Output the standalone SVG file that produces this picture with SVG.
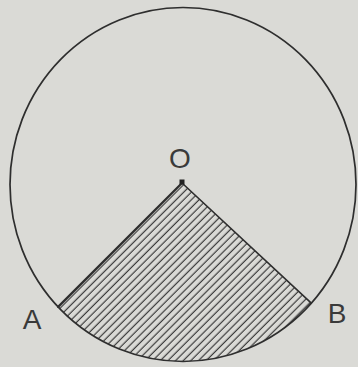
<svg xmlns="http://www.w3.org/2000/svg" width="358" height="367" viewBox="0 0 358 367">
<style>
.lbl{font-family:"Liberation Sans",Arial,sans-serif;font-size:28px;fill:#3a3a3a;text-anchor:middle}
.edge{stroke:#2e2e2e;fill:none;stroke-linecap:round}
</style>
<defs>
<pattern id="hatch" patternUnits="userSpaceOnUse" width="5.4" height="10" patternTransform="rotate(45)">
<line x1="1.2" y1="-2" x2="1.2" y2="12" stroke="#3c3c3c" stroke-width="1.2"/>
</pattern>
</defs>
<rect width="358" height="367" fill="#dadad6"/>
<g id="sector">
<path d="M182 183 L58.1 306.9 A173 177 0 0 0 311.3 303.2 Z" fill="url(#hatch)" stroke="none"/>
</g>
<g id="circle">
<ellipse cx="183" cy="184.5" rx="173" ry="177" class="edge" stroke-width="1.7"/>
</g>
<g id="connectors">
<line x1="182" y1="183" x2="58.1" y2="306.9" class="edge" stroke-width="2.2"/>
<line x1="182" y1="183" x2="311.3" y2="303.2" class="edge" stroke-width="1.6"/>
</g>
<g id="O">
<rect x="179.5" y="179.5" width="5" height="5" fill="#222"/>
<text x="180" y="168" class="lbl">O</text>
</g>
<g id="A">
<text x="32" y="329" class="lbl">A</text>
</g>
<g id="B">
<text x="337" y="323" class="lbl">B</text>
</g>
</svg>
